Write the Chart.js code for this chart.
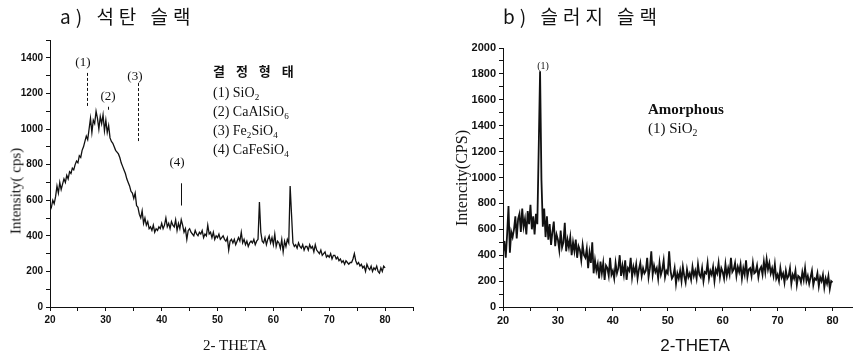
<!DOCTYPE html>
<html><head><meta charset="utf-8">
<script src="https://cdn.jsdelivr.net/npm/chart.js@4/dist/chart.umd.min.js"></script>
<style>
html,body{margin:0;padding:0;width:853px;height:357px;overflow:hidden;background:#fff;}
.c{position:absolute;top:0;}
.t{position:absolute;white-space:nowrap;color:#111;line-height:1;}
.kr{font-family:"Noto Sans CJK KR","Noto Sans",sans-serif;}
.serif{font-family:"Liberation Serif","DejaVu Serif",serif;}
.sans{font-family:"Liberation Sans",Arial,sans-serif;}
.rot{transform:translate(-50%,-50%) rotate(-90deg);}
.ctr{transform:translate(-50%,-50%);}
sub{font-size:65%;vertical-align:-3px;line-height:0;}
</style></head><body>
<div class="c" style="left:0;"><canvas id="ca" width="430" height="357"></canvas></div>
<div class="c" style="left:430px;"><canvas id="cb" width="440" height="357"></canvas></div>

<div class="t kr" style="left:60px;top:6px;font-size:19px;letter-spacing:5px;">a) 석탄 슬랙</div>
<div class="t kr" style="left:503px;top:6px;font-size:19px;letter-spacing:5px;">b) 슬러지 슬랙</div>

<div class="t serif rot" style="left:16px;top:191px;font-size:15px;">Intensity( cps)</div>
<div class="t serif rot" style="left:462px;top:178px;font-size:16px;">Intencity(CPS)</div>
<div class="t serif ctr" style="left:235px;top:345px;font-size:15px;">2- THETA</div>
<div class="t sans ctr" style="left:695px;top:345px;font-size:17px;">2-THETA</div>

<div class="t kr" style="left:213px;top:64px;font-size:13px;font-weight:bold;letter-spacing:4px;">결 정 형 태</div>
<div class="t serif" style="left:213px;top:83px;font-size:14px;line-height:19px;">
(1) SiO<sub>2</sub><br>(2) CaAlSiO<sub>6</sub><br>(3) Fe<sub>2</sub>SiO<sub>4</sub><br>(4) CaFeSiO<sub>4</sub>
</div>
<div class="t serif" style="left:648px;top:102px;font-size:15px;font-weight:bold;">Amorphous</div>
<div class="t serif" style="left:648px;top:121px;font-size:15px;">(1) SiO<sub>2</sub></div>

<script>
// 2-theta sampling grid (degrees)
const thetaStart = 20, thetaStep = 0.25;

// a) coal slag intensity (cps), 20..80 deg, step 0.25
const intensityA = [
540,560,600,580, 620,680,640,700, 660,690,720,700, 740,720,760,750,
780,770,800,820, 810,850,840,880, 900,930,960,940, 1000,1060,980,1050,
1030,1100,1060,1000, 1070,1030,1080,990, 1050,980,1020,950, 930,920,900,880,
870,860,840,810, 790,770,750,720, 700,680,650,640, 610,640,570,560,
520,500,540,470, 500,460,480,440, 450,430,460,420, 440,430,450,440,
470,440,460,500, 450,470,440,480, 460,450,490,430, 470,440,490,460,
420,440,380,430, 440,420,410,400, 430,410,400,420, 410,430,390,410,
400,460,410,420, 390,420,380,400, 390,410,380,390, 400,380,370,390,
320,370,380,360, 380,350,370,390, 370,420,360,380, 350,370,340,360,
370,360,380,350, 370,380,590,420, 370,360,390,350, 380,400,360,390,
350,410,340,370, 360,330,380,310, 370,340,380,360, 680,520,360,340,
350,330,360,340, 330,350,320,340, 340,320,350,330, 340,310,350,320,
310,300,320,290, 300,310,280,290, 280,300,270,290, 290,270,280,260,
270,250,260,240, 260,250,240,250, 250,270,300,260, 240,250,230,240,
220,230,200,240, 220,210,230,200, 220,210,230,200, 190,220,200,230,
220
];

// b) sludge slag intensity (CPS), 20..80 deg, step 0.25
const intensityB = [
420,510,380,560, 780,420,580,540, 600,700,530,680, 720,580,760,620,
680,560,740,640, 790,600,700,560, 720,640,1220,1820, 980,620,760,540,
700,520,640,480, 580,660,470,560, 520,440,590,460, 500,650,430,520,
460,540,400,500, 430,520,380,470, 440,360,480,400, 380,450,300,420,
340,500,260,360, 280,330,220,350, 260,340,210,320, 300,240,380,250,
280,220,340,260, 300,400,240,320, 250,360,210,300, 280,380,230,310,
260,330,220,290, 340,240,300,260, 280,380,230,300, 430,250,320,270,
300,220,340,250, 290,360,230,280, 260,430,280,220, 240,300,180,260,
220,280,200,310, 240,190,290,230, 260,210,310,240, 280,220,330,250,
230,300,200,270, 260,340,220,280, 250,310,200,290, 260,340,230,300,
270,220,330,240, 300,250,380,270, 290,340,240,310, 270,330,220,300,
250,360,230,290, 300,240,340,260, 270,320,230,290, 310,250,350,270,
370,290,340,260, 300,240,330,220, 250,200,300,230, 260,190,280,220,
240,300,180,250, 220,280,170,240, 230,190,270,210, 300,200,240,180,
230,280,170,220, 210,260,160,230, 200,250,150,220, 180,240,140,200,
190
];

// peak annotations: [label, labelX, labelY, lineX, lineTop, lineBottom, dashed]
const peaksA = [
  ["(1)", 25.9, 1373, 26.7, 1315, 1127, true],
  ["(2)", 30.4, 1180, 30.45, 1125, 1100, true],
  ["(3)", 35.2, 1294, 35.8, 1258, 930, true],
  ["(4)", 42.75, 810, 43.5, 695, 570, false]
];
const peaksB = [
  ["(1)", 27.3, 1855, null, null, null, false]
];

function pts(arr){ return arr.map((v,i)=>({x: thetaStart + i*thetaStep, y: v})); }

function annotPlugin(list, fontSize){
  return {
    id:'annot',
    afterDatasetsDraw(chart){
      const c = chart.ctx, xs = chart.scales.x, ys = chart.scales.y;
      c.save();
      c.strokeStyle = '#111'; c.fillStyle = '#111'; c.lineWidth = 1;
      c.font = fontSize + 'px "Liberation Serif", serif';
      c.textAlign = 'center'; c.textBaseline = 'middle';
      for (const p of list){
        c.fillText(p[0], xs.getPixelForValue(p[1]), ys.getPixelForValue(p[2]));
        if (p[3] !== null){
          c.setLineDash(p[6] ? [3,2] : []);
          const x = Math.round(xs.getPixelForValue(p[3])) + 0.5;
          c.beginPath();
          c.moveTo(x, ys.getPixelForValue(p[4]));
          c.lineTo(x, ys.getPixelForValue(p[5]));
          c.stroke();
        }
      }
      c.restore();
    }
  };
}

function makeChart(id, data, yMax, yW, pad, tickFont, lw, plugin){
  return new Chart(document.getElementById(id), {
    type:'line',
    data:{datasets:[{data: pts(data), borderColor:'#111', borderWidth:lw, pointRadius:0, tension:0, fill:false}]},
    options:{
      responsive:false, animation:false, parsing:true,
      layout:{padding:pad},
      plugins:{legend:{display:false}, tooltip:{enabled:false}},
      scales:{
        x:{type:'linear', min:20, max:85,
           afterFit(s){ s.height = 50; },
           ticks:{stepSize:5, autoSkip:false, maxRotation:0, padding:3, color:'#111',
                  font:{family:'"Liberation Sans", Arial, sans-serif', size:tickFont, weight:'bold'},
                  callback:v => (v%10===0 && v<=80) ? v : ''},
           grid:{drawOnChartArea:false, tickLength:4, color:'#111'},
           border:{color:'#111', width:1}},
        y:{min:0, max:yMax,
           afterFit(s){ s.width = yW; },
           ticks:{stepSize:100, autoSkip:false, padding:3, color:'#111',
                  font:{family:'"Liberation Sans", Arial, sans-serif', size:tickFont, weight:'bold'},
                  callback:v => (v%200===0 && v<yMax+1 && !(yMax===1500 && v>1400)) ? v : ''},
           grid:{drawOnChartArea:false, tickLength:4, color:'#111'},
           border:{color:'#111', width:1}}
      }
    },
    plugins:[plugin]
  });
}

makeChart('ca', intensityA, 1500, 50, {left:0, right:17, top:40, bottom:0}, 10, 1.3, annotPlugin(peaksA, 13));
makeChart('cb', intensityB, 2000, 73, {left:0, right:10, top:48, bottom:0}, 11, 1.8, annotPlugin(peaksB, 10));
</script>
</body></html>
